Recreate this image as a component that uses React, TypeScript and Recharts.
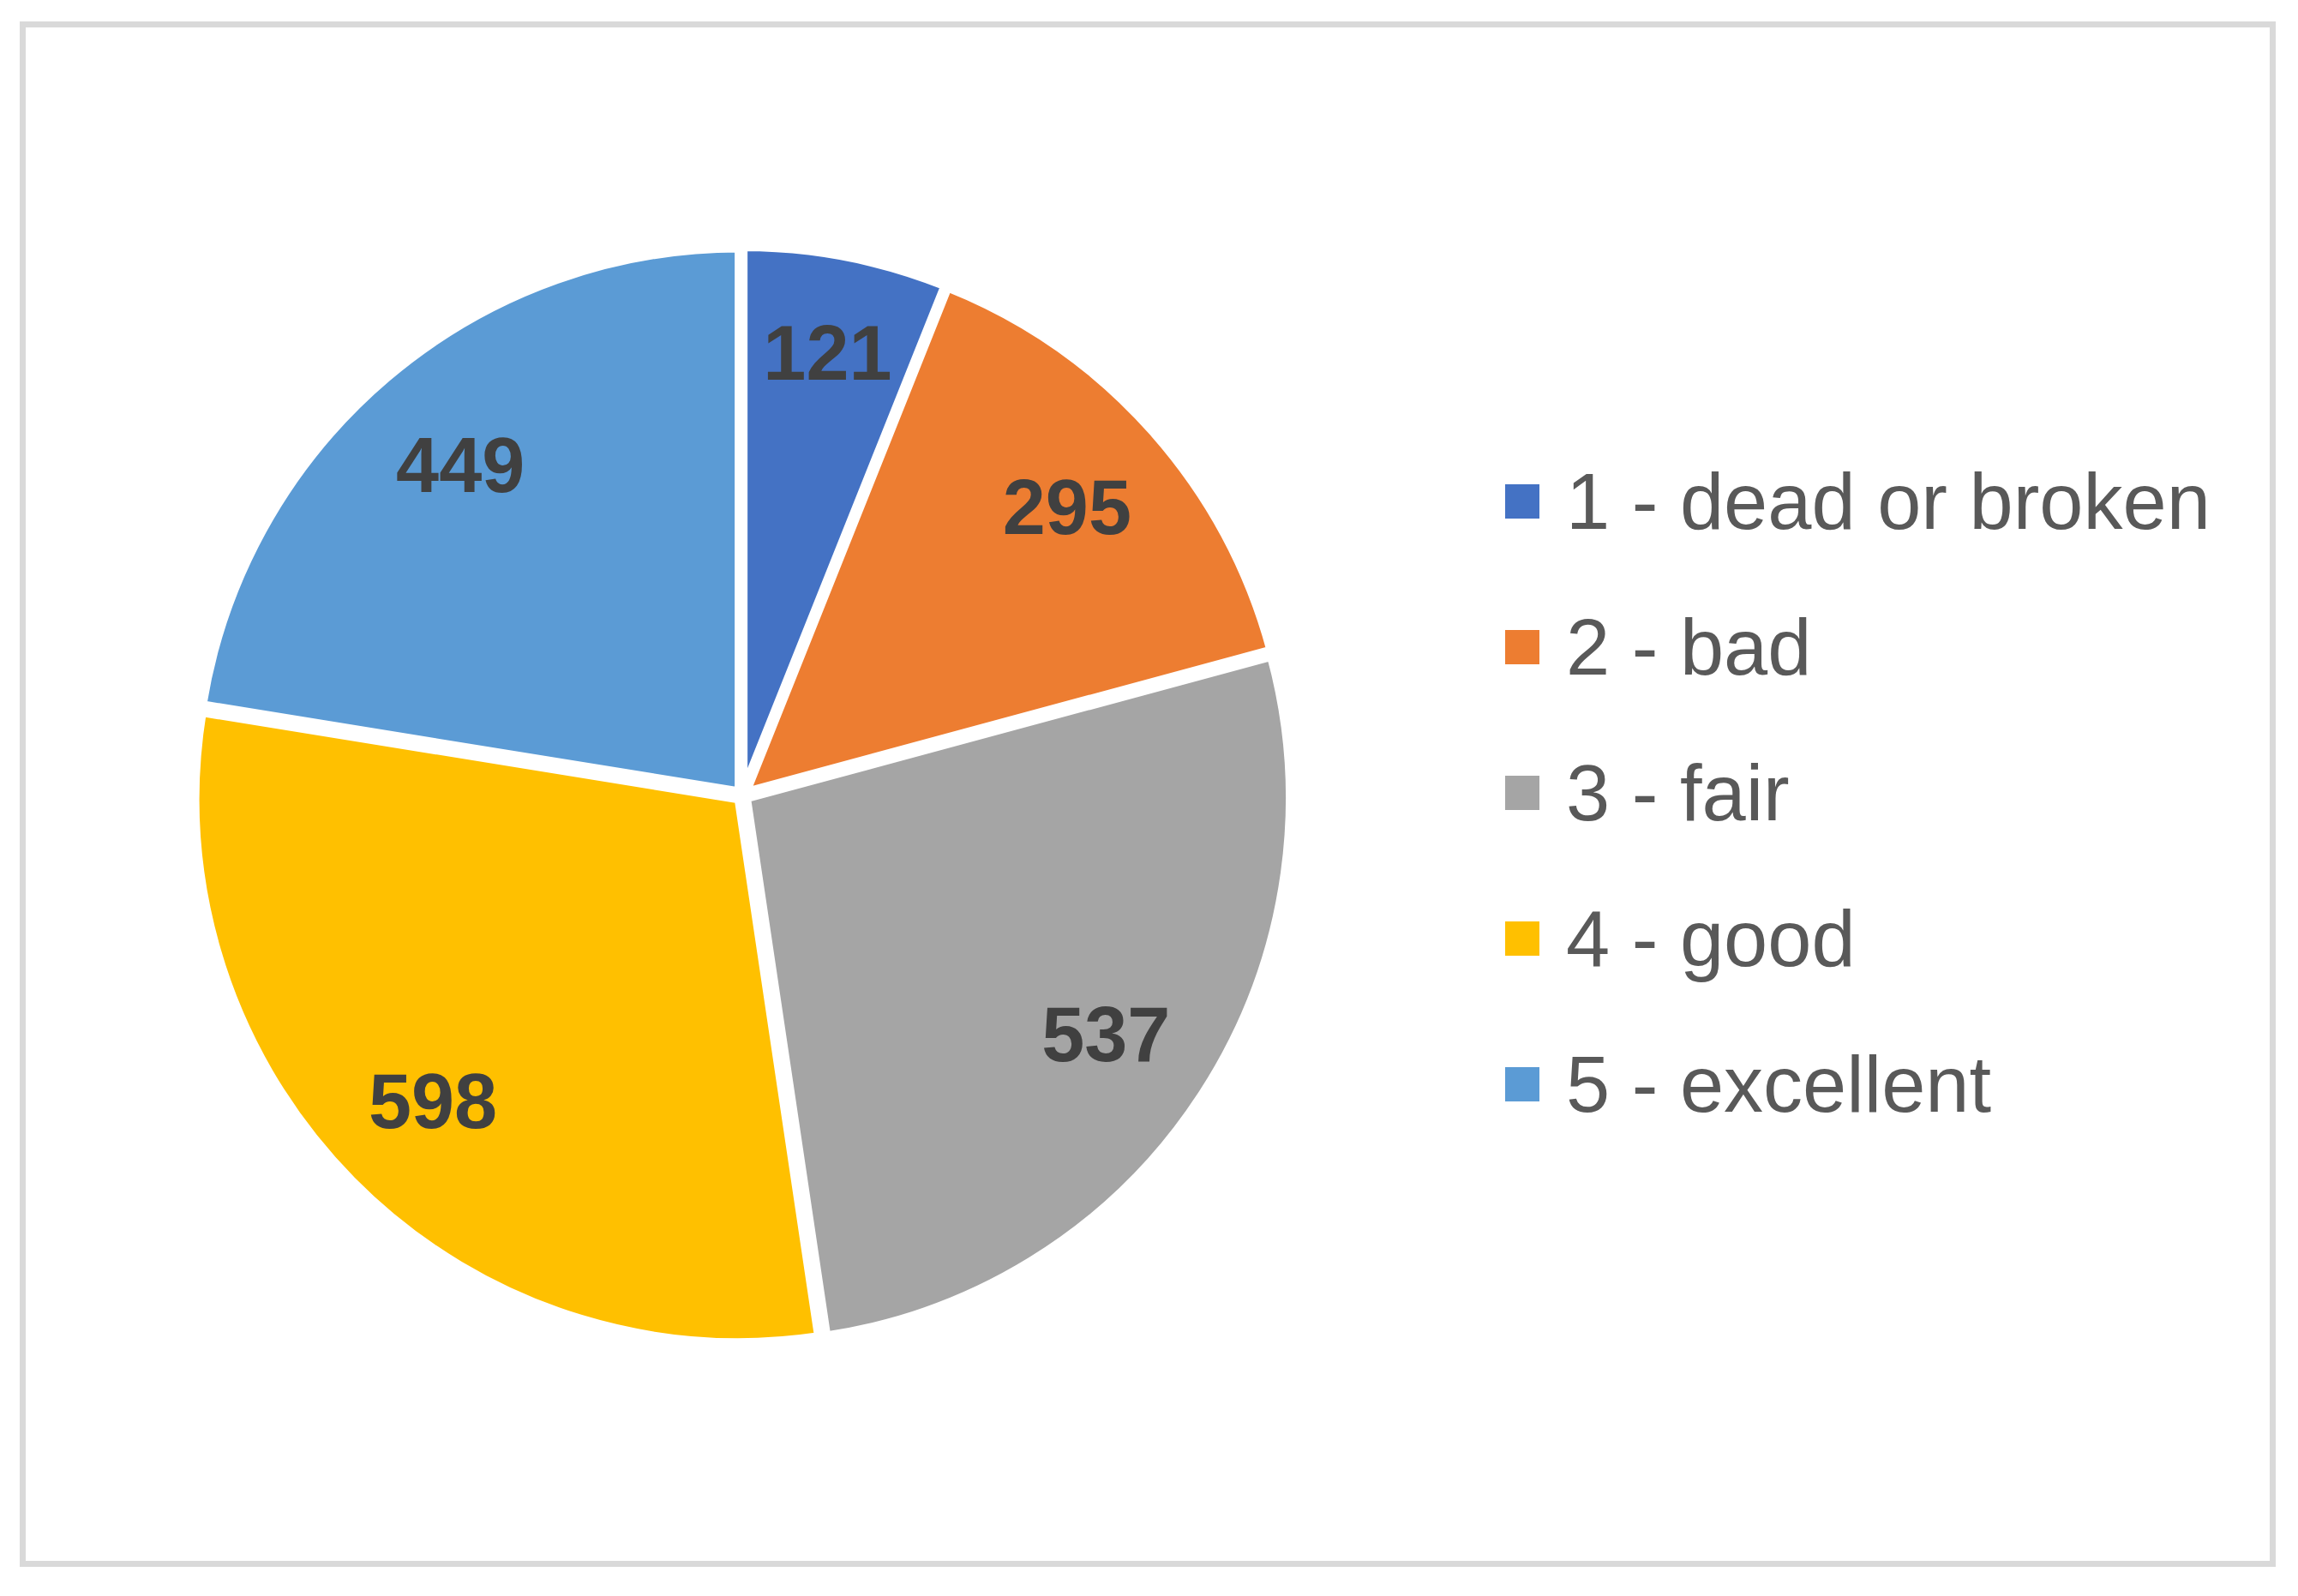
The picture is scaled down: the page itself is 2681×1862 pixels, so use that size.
import { Cell, Legend, Pie, PieChart, Sector } from "recharts";

const categories = ["1 - dead or broken", "2 - bad", "3 - fair", "4 - good", "5 - excellent"];
const counts = [121, 295, 537, 598, 449];
const colors = ["#4472C4", "#ED7D31", "#A5A5A5", "#FFC000", "#5B9BD5"];

const data = categories.map((name, i) => ({ name, value: counts[i] }));

const RADIAN = Math.PI / 180;
const FONT = "'Liberation Sans', Arial, sans-serif";

// small excel-style explosion so the slices don't meet in one point
function ExplodedSlice(props: any) {
  const { cx, cy, midAngle } = props;
  const off = 6;
  const dx = off * Math.cos(-midAngle * RADIAN);
  const dy = off * Math.sin(-midAngle * RADIAN);
  return <Sector {...props} cx={cx + dx} cy={cy + dy} stroke="#ffffff" strokeWidth={10} />;
}

function renderLabel(props: any) {
  const { cx, cy, midAngle, outerRadius, value, index } = props;
  // excel "best fit" pushes the thin first slice's label out a bit
  const r = outerRadius * (index === 0 ? 0.83 : 0.8);
  const x = cx + r * Math.cos(-midAngle * RADIAN);
  const y = cy + r * Math.sin(-midAngle * RADIAN);
  return (
    <text
      x={x}
      y={y + 32}
      textAnchor="middle"
      fill="#404040"
      fontSize={90}
      fontWeight="bold"
      fontFamily={FONT}
    >
      {value}
    </text>
  );
}

function LegendContent() {
  return (
    <div style={{ fontFamily: FONT }}>
      {categories.map((name, i) => (
        <div key={name} style={{ display: "flex", alignItems: "center", height: 170 }}>
          <div style={{ width: 40, height: 40, background: colors[i], marginRight: 31 }} />
          <span style={{ fontSize: 92, color: "#595959", whiteSpace: "nowrap" }}>{name}</span>
        </div>
      ))}
    </div>
  );
}

export default function App() {
  return (
    <div
      style={{
        position: "absolute",
        left: 0,
        top: 0,
        width: 2681,
        height: 1862,
        background: "#ffffff",
        fontFamily: FONT,
      }}
    >
      <div
        style={{
          position: "absolute",
          left: 23,
          top: 25,
          width: 2632,
          height: 1803,
          boxSizing: "border-box",
          border: "7px solid #d9d9d9",
        }}
      />
      <div style={{ position: "absolute", left: 0, top: 0 }}>
        <PieChart width={2681} height={1862}>
          <Pie
            data={data}
            dataKey="value"
            nameKey="name"
            cx={861}
            cy={923}
            outerRadius={634}
            startAngle={90}
            endAngle={-270}
            label={renderLabel}
            labelLine={false}
            shape={ExplodedSlice}
            isAnimationActive={false}
          >
            {data.map((d, i) => (
              <Cell key={d.name} fill={colors[i]} />
            ))}
          </Pie>
          <Legend
            content={LegendContent}
            wrapperStyle={{ position: "absolute", left: 1756, top: 500, width: 900 }}
          />
        </PieChart>
      </div>
    </div>
  );
}
